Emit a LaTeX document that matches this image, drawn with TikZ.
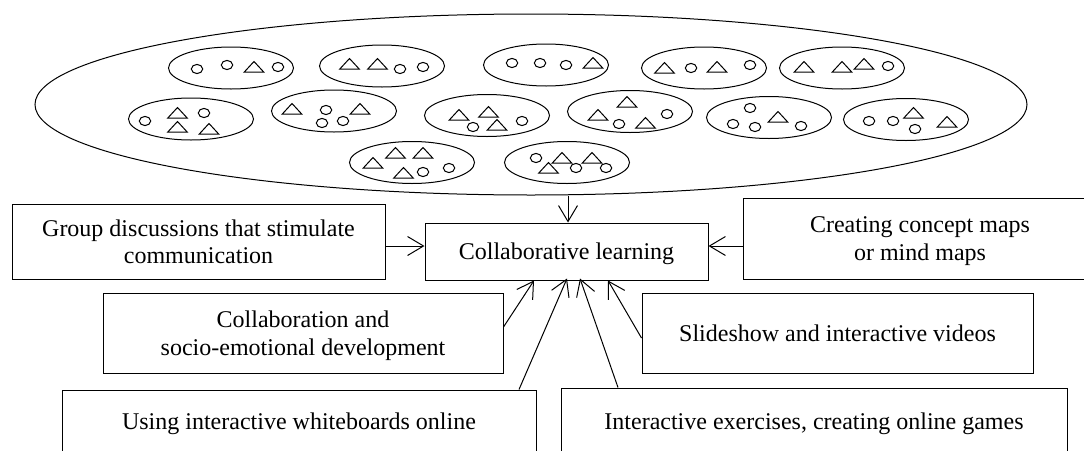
\documentclass[tikz,border=0pt]{standalone}
\usepackage{fontspec}
\setmainfont{Liberation Serif}
\usetikzlibrary{shapes.geometric,arrows.meta,calc}

% small marks inside the group ellipses
\newcommand\grpcirc[2]{\draw (#1,#2) ellipse [x radius=5.7, y radius=4.6];}
\newcommand\grptri[2]{\draw (#1-9.7,#2) -- (#1,#2-10.5) -- (#1+9.7,#2) -- cycle;}

\tikzset{
  box/.style={draw, line width=1pt, inner sep=0pt, align=center,
    text depth=0pt, font=\fontsize{24}{27.5}\selectfont},
  grp/.style={draw, ellipse, inner sep=0pt, minimum width=125pt, minimum height=42pt},
  arr/.style={line width=1pt, -{Straight Barb[length=16pt,width=19pt,line width=1pt]}}
}

\begin{document}
\begin{tikzpicture}[x=1pt, y=-1pt, line width=1pt]
\clip (0,0) rectangle (1084,450);

% the class as a whole
\node[draw, ellipse, inner sep=0pt, minimum width=992pt, minimum height=181pt] (big) at (531,104.5) {};

% groups of pupils
\node[grp] (g1) at (231,68) {};
\grpcirc{197}{69} \grpcirc{227}{65} \grptri{254}{72} \grpcirc{278}{67}

\node[grp] (g2) at (382,66) {};
\grptri{349.5}{69} \grptri{377.5}{69} \grpcirc{400}{69} \grpcirc{423}{67}

\node[grp] (g3) at (546,65) {};
\grpcirc{512}{63} \grpcirc{540}{63} \grpcirc{566}{65} \grptri{593}{68}

\node[grp] (g4) at (704,68) {};
\grptri{664.5}{73} \grpcirc{691}{68} \grptri{717}{72} \grpcirc{750}{65}

\node[grp] (g5) at (842,68) {};
\grptri{804}{72} \grptri{842}{72} \grptri{864}{69} \grpcirc{888}{66}

\node[grp] (g6) at (191,119) {};
\grpcirc{145}{121} \grptri{177.5}{118} \grpcirc{204}{113} \grptri{177.5}{132} \grptri{209}{134}

\node[grp] (g7) at (334,111) {};
\grptri{292}{114} \grpcirc{326}{110} \grptri{360}{114} \grpcirc{322}{123} \grpcirc{343}{121}

\node[grp] (g8) at (487,115.5) {};
\grptri{459}{120} \grptri{488.5}{117} \grpcirc{473}{127} \grptri{497}{130} \grpcirc{522}{121}

\node[grp] (g9) at (630,111.5) {};
\grptri{627}{107} \grptri{598}{120} \grpcirc{619}{124} \grptri{645.5}{128} \grpcirc{667}{114}

\node[grp] (g10) at (769,117.5) {};
\grpcirc{750}{108} \grpcirc{733}{124} \grpcirc{755}{127} \grptri{778}{122} \grpcirc{801}{126}

\node[grp] (g11) at (906,119.5) {};
\grpcirc{869}{121} \grpcirc{893}{121} \grptri{913.5}{118} \grpcirc{915}{129} \grptri{947}{127}

\node[grp] (g12) at (412,162.5) {};
\grptri{373}{168} \grptri{395.5}{158} \grptri{423}{158} \grptri{403.5}{178} \grpcirc{423}{172} \grpcirc{449}{168}

\node[grp] (g13) at (567,162.5) {};
\grpcirc{536}{158} \grptri{562}{163} \grptri{592}{163} \grptri{548.5}{173} \grpcirc{576}{168} \grpcirc{606}{168}

% boxes
\node[box, minimum width=283pt, minimum height=57pt] (cl) at (566.5,251.5) {Collaborative learning};
\node[box, minimum width=373pt, minimum height=75pt] (gd) at (198.5,241.5) {Group discussions that stimulate\\communication};
\node[box, minimum width=354pt, minimum height=81pt] (cm) at (920,238.5) {Creating concept maps\\or mind maps};
\node[box, minimum width=400pt, minimum height=80pt] (cs) at (303,333) {Collaboration and\\socio-emotional development};
\node[box, minimum width=391pt, minimum height=80pt] (ss) at (837.5,333) {Slideshow and interactive videos};
\node[box, minimum width=474pt, minimum height=62pt] (uw) at (299,421) {Using interactive whiteboards online};
\node[box, minimum width=506pt, minimum height=66pt] (ie) at (814,421) {Interactive exercises, creating online games};

% connectors
\draw[arr] ([xshift=1.5pt]cl.north |- big.south) -- ([xshift=1.5pt]cl.north);
\draw[arr] ([yshift=-4.5pt]gd.east) -- ([yshift=-4.5pt]gd.east -| cl.west);
\draw[arr] ([yshift=-7.5pt]cm.west) -- ([yshift=-7.5pt]cm.west -| cl.east);
\draw[arr] ([yshift=6pt]cs.east) -- ([xshift=-32.5pt]cl.south);
\draw[arr] ([xshift=220pt]uw.north) -- ([xshift=0.5pt,yshift=2pt]cl.south);
\draw[arr] ([xshift=-196pt]ie.north) -- ([xshift=13.5pt,yshift=2pt]cl.south);
\draw[arr] ([yshift=-5pt]ss.west) -- ([xshift=41.5pt]cl.south);
\end{tikzpicture}
\end{document}
